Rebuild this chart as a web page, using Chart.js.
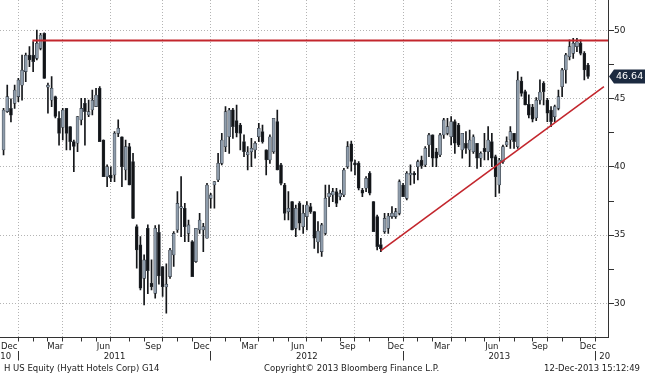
<!DOCTYPE html>
<html>
<head>
<meta charset="utf-8">
<script src="https://cdn.jsdelivr.net/npm/chart.js@4.4.1/dist/chart.umd.min.js"></script>
<style>
html, body { margin: 0; padding: 0; background: #fff; }
#wrap { position: relative; width: 645px; height: 376px; overflow: hidden; }
#footer span { position: absolute; top: 363px; font: 8.5px "DejaVu Sans", sans-serif; color: #1a1a1a; white-space: nowrap; }
</style>
</head>
<body>
<div id="wrap">
  <canvas id="chart" width="645" height="376"></canvas>
  <div id="footer">
    <span style="left:4px">H US Equity (Hyatt Hotels Corp) G14</span>
    <span style="left:264px">Copyright&copy; 2013 Bloomberg Finance L.P.</span>
    <span style="right:5px">12-Dec-2013 15:12:49</span>
  </div>
</div>
<script>
// weekly bars, first bar = week of Mon 6 Dec 2010
var FIRST_WEEK = Date.UTC(2010, 11, 6);

var opens = [41.25,44.06,44.3,44.67,45.16,46.0,47.0,48.2,48.2,47.97,48.7,49.8,45.85,44.9,45.16,43.57,42.9,44.3,42.96,41.86,
  41.74,43.45,44.67,43.81,44.18,44.43,45.77,41.98,39.29,39.41,39.41,42.47,42.22,39.78,41.49,40.4,35.62,34.28,31.83,35.5,
  31.47,30.73,35.2,32.69,31.2,31.96,33.55,35.38,36.97,36.97,35.13,34.52,33.06,35.38,35.38,34.77,37.7,38.68,39.05,40.27,
  41.49,42.22,44.2,43.4,43.08,41.86,40.9,41.12,41.25,42.22,42.59,41.25,40.51,41.12,43.33,40.15,38.68,36.72,37.46,35.5,
  37.33,35.62,36.36,37.09,36.72,34.5,33.79,35.13,37.82,37.95,38.19,37.82,37.95,40.02,41.7,40.3,40.27,38.31,38.44,39.54,
  37.46,36.36,34.3,35.26,35.5,36.36,36.36,36.6,38.68,37.7,39.41,39.54,40.02,40.5,40.15,41.61,42.35,41.12,40.88,42.35,
  42.47,42.22,43.33,43.08,41.25,41.74,41.25,41.12,41.74,40.64,41.37,41.12,41.86,40.76,38.68,40.39,41.61,41.98,42.47,41.49,
  46.3,45.53,44.6,44.4,43.6,44.9,46.14,44.91,44.18,43.69,44.3,45.89,47.12,48.09,48.34,48.83,49.07,48.34,47.48];
var highs = [44.3,46.0,45.0,46.0,46.5,48.2,48.35,48.83,49.2,50.05,49.8,49.85,46.15,46.63,45.2,44.06,44.3,44.3,42.96,41.98,
  43.69,45.04,45.04,44.9,45.65,45.77,45.9,42.0,40.15,40.02,42.59,43.45,42.22,41.98,41.74,41.0,35.75,34.89,33.55,35.75,
  33.18,35.7,35.75,32.69,32.9,34.03,35.26,38.19,39.29,37.33,36.11,34.6,35.5,36.6,35.87,38.8,38.07,38.92,41.0,42.47,
  44.43,44.3,44.3,44.55,43.2,42.35,41.49,42.1,41.86,43.2,43.08,41.25,42.35,43.57,44.18,40.27,38.8,38.19,37.46,37.21,
  37.46,37.21,37.46,37.33,36.72,36.0,35.87,38.68,38.68,38.44,38.44,38.31,39.9,41.86,41.9,40.51,40.39,38.44,39.29,39.66,
  37.46,36.48,34.77,36.6,36.6,37.09,36.97,39.05,38.8,39.66,40.15,39.66,40.51,40.8,41.49,42.47,42.35,41.37,42.47,43.57,
  43.57,43.69,43.45,43.2,42.47,42.59,42.71,42.35,41.74,41.12,42.47,42.96,42.47,40.88,40.64,41.61,42.22,42.96,42.47,46.99,
  46.6,45.65,45.3,44.6,45.1,46.4,46.26,45.04,44.43,44.55,45.65,47.24,48.34,49.32,49.44,49.44,49.32,48.46,47.6];
var lows = [40.88,44.0,43.3,44.3,44.8,44.9,46.26,47.36,47.0,47.85,48.58,46.5,43.94,44.43,43.6,41.6,41.98,41.25,41.25,39.66,
  41.12,43.08,41.6,43.69,43.81,44.43,41.86,39.29,38.56,38.92,38.92,42.22,38.56,39.05,38.68,36.2,32.57,30.98,29.88,30.7,
  30.98,30.37,31.4,30.5,29.27,31.83,32.7,35.2,34.89,34.52,34.52,31.96,33.0,35.13,33.79,34.77,36.97,36.97,38.92,40.15,
  41.12,41.0,42.1,42.2,41.25,40.76,39.78,40.02,40.64,41.86,41.74,39.41,40.27,41.0,39.78,38.68,36.11,36.11,35.38,34.89,
  35.38,35.13,35.38,36.6,34.03,33.7,33.43,35.01,37.09,37.46,37.09,37.58,37.82,39.9,39.7,39.41,38.31,37.82,38.19,37.95,
  35.26,33.91,33.79,35.13,35.13,36.23,36.23,36.48,37.82,37.58,38.68,38.8,39.05,39.9,40.02,40.76,40.02,40.02,40.76,42.1,
  42.35,41.61,41.0,41.49,40.64,41.0,40.02,41.0,39.9,40.02,40.51,40.51,40.02,37.82,38.07,40.27,41.49,41.37,41.37,41.37,
  45.2,44.55,43.6,43.3,43.4,44.6,44.55,43.33,42.96,43.33,44.18,45.16,46.14,47.85,47.97,48.46,48.22,46.38,46.5];
var closes = [44.18,45.16,43.8,45.65,46.38,47.1,48.2,47.85,47.73,49.07,49.68,46.5,46.0,45.77,43.7,42.47,44.18,42.47,41.86,41.5,
  43.69,44.3,44.06,44.06,44.9,45.28,41.86,39.29,40.02,39.17,42.47,42.84,40.02,41.49,38.68,36.23,33.91,31.1,33.18,32.4,
  31.22,35.5,32.0,31.22,31.4,33.91,35.13,37.33,37.09,35.62,35.75,31.96,35.5,36.11,35.62,38.68,37.95,38.92,40.27,41.98,
  44.06,44.18,42.96,42.5,42.47,41.12,41.1,41.37,41.74,42.84,41.86,40.51,42.22,43.57,39.78,38.8,36.6,36.97,35.38,36.97,
  35.87,36.6,37.21,36.72,34.77,35.3,35.75,37.7,38.07,38.19,37.33,38.07,39.78,41.49,40.4,40.15,38.44,38.07,39.17,38.07,
  35.26,34.16,34.0,36.23,36.4,36.6,36.72,38.92,37.82,39.54,39.54,39.41,40.39,40.1,41.37,42.35,40.64,40.64,42.35,43.45,
  42.96,43.33,41.74,41.61,42.47,41.37,41.98,42.22,40.64,41.0,41.12,41.98,40.64,39.29,40.51,41.49,41.86,42.59,41.86,46.38,
  45.4,44.55,43.8,43.5,44.9,45.5,45.53,43.94,43.33,44.43,45.16,47.12,48.22,48.83,49.07,49.19,48.34,47.12,46.64];

var monthNames = {11: 'Dec', 2: 'Mar', 5: 'Jun', 8: 'Sep'};
var yearLabels = ['10', '2011', '2012', '2013', '20'];
var yearLabelPos = [0.6, 30, 82, 134, 162.5];
var yTicks = [30, 32.5, 35, 37.5, 40, 42.5, 45, 47.5, 50];
var lastPrice = 46.64;
var resistance = [{x: 7.8, y: 49.27}, {x: 163.4, y: 49.27}];
var trendLine = [{x: 102, y: 33.87}, {x: 162.3, y: 45.89}];

var X_MIN = -0.96, X_MAX = 163.4;
var Y_MIN = 27.49, Y_MAX = 52.25;
var GRID = '#b4b4b4';
var DAY = 86400000;

// bar index of the first week whose Friday falls on or after a date
function barOf(ms) {
    return Math.ceil((ms - (FIRST_WEEK + 4 * DAY)) / (7 * DAY));
}

// month boundary ticks + label ticks centred in labelled months
var monthTicks = [];
var bounds = [];
for (var y = 2010; y <= 2014; y++) {
    for (var m = 0; m < 12; m++) {
        bounds.push({y: y, m: m, idx: barOf(Date.UTC(y, m, 1))});
    }
}
for (var b = 0; b < bounds.length - 1; b++) {
    var bd = bounds[b];
    if (bd.idx >= X_MIN && bd.idx <= X_MAX) {
        monthTicks.push({value: bd.idx, kind: bd.m % 3 === 0 ? 'quarter' : 'month', text: ''});
    }
    if (monthNames[bd.m] !== undefined) {
        var mid = (bd.idx + bounds[b + 1].idx) / 2;
        if (mid >= X_MIN && mid <= X_MAX) {
            monthTicks.push({value: mid, kind: 'label', text: monthNames[bd.m]});
        }
    }
}
monthTicks.sort(function(a, b) { return a.value - b.value; });

var yearTicks = [];
[2011, 2012, 2013, 2014].forEach(function(yr) {
    yearTicks.push({value: barOf(Date.UTC(yr, 0, 1)), kind: 'sep', text: ''});
});
yearLabels.forEach(function(t, i) {
    yearTicks.push({value: yearLabelPos[i], kind: 'label', text: t});
});
yearTicks.sort(function(a, b) { return a.value - b.value; });

var wickData = [], bodyData = [], bodyFill = [];
for (var i = 0; i < closes.length; i++) {
    wickData.push({x: i, y: [lows[i], highs[i]]});
    bodyData.push({x: i, y: [opens[i], closes[i]]});
    bodyFill.push(closes[i] >= opens[i] ? '#8e9cab' : '#121417');
}

function copyTicks(list) {
    return function(axis) {
        axis.ticks = list.map(function(t) { return {value: t.value, kind: t.kind, text: t.text}; });
    };
}
function noPad(axis) {
    axis.paddingLeft = 0; axis.paddingRight = 0;
    axis.paddingTop = 0; axis.paddingBottom = 0;
}

var priceTag = {
    id: 'priceTag',
    afterDraw: function(chart) {
        var ctx = chart.ctx;
        var yPix = chart.scales.y.getPixelForValue(lastPrice);
        var x0 = chart.chartArea.right + 1;
        ctx.save();
        ctx.fillStyle = '#1c2a40';
        ctx.beginPath();
        ctx.moveTo(x0, yPix);
        ctx.lineTo(x0 + 5, yPix - 7);
        ctx.lineTo(645, yPix - 7);
        ctx.lineTo(645, yPix + 7);
        ctx.lineTo(x0 + 5, yPix + 7);
        ctx.closePath();
        ctx.fill();
        ctx.fillStyle = '#ffffff';
        ctx.font = '9.5px "DejaVu Sans", sans-serif';
        ctx.textBaseline = 'middle';
        ctx.fillText(lastPrice.toFixed(2), x0 + 7, yPix + 0.5);
        ctx.restore();
    }
};

var chart = new Chart(document.getElementById('chart').getContext('2d'), {
    type: 'bar',
    data: {
        datasets: [{
            type: 'line',
            data: resistance,
            borderColor: '#c3262d',
            borderWidth: 2,
            pointRadius: 0,
            order: 0
        }, {
            type: 'line',
            data: trendLine,
            borderColor: '#c3262d',
            borderWidth: 1.6,
            pointRadius: 0,
            order: 0
        }, {
            data: bodyData,
            backgroundColor: bodyFill,
            borderColor: '#2e343c',
            borderWidth: 0.6,
            borderSkipped: false,
            barThickness: 3,
            grouped: false,
            order: 1
        }, {
            data: wickData,
            backgroundColor: '#15171a',
            borderWidth: 0,
            barThickness: 1,
            grouped: false,
            order: 2
        }]
    },
    plugins: [priceTag],
    options: {
        responsive: false,
        animation: false,
        devicePixelRatio: 1,
        layout: {
            autoPadding: false,
            padding: {left: 0, right: 0, top: 0, bottom: 13.5}
        },
        plugins: {
            legend: {display: false},
            tooltip: {enabled: false}
        },
        scales: {
            x: {
                type: 'linear',
                position: 'bottom',
                min: X_MIN,
                max: X_MAX,
                offset: false,
                afterBuildTicks: copyTicks(monthTicks),
                afterFit: function(axis) { axis.height = 13; noPad(axis); },
                grid: {
                    offset: false,
                    color: function(c) { return c.tick && c.tick.kind === 'quarter' ? GRID : 'rgba(0,0,0,0)'; },
                    tickColor: function(c) { return c.tick && c.tick.kind !== 'label' ? '#333' : 'rgba(0,0,0,0)'; },
                    tickLength: 4
                },
                border: {display: true, color: '#333', width: 1, dash: [1, 2]},
                ticks: {
                    autoSkip: false,
                    maxRotation: 0,
                    padding: 0,
                    color: '#1a1a1a',
                    font: {family: 'DejaVu Sans', size: 8.5},
                    callback: function(v, i, ticks) { return ticks[i].text; }
                }
            },
            x2: {
                type: 'linear',
                position: 'bottom',
                min: X_MIN,
                max: X_MAX,
                offset: false,
                afterBuildTicks: copyTicks(yearTicks),
                afterFit: function(axis) { axis.height = 12; noPad(axis); },
                grid: {
                    drawOnChartArea: false,
                    offset: false,
                    tickColor: function(c) { return c.tick && c.tick.kind === 'sep' ? '#333' : 'rgba(0,0,0,0)'; },
                    tickLength: 10
                },
                border: {display: false},
                ticks: {
                    autoSkip: false,
                    maxRotation: 0,
                    padding: -9,
                    color: '#1a1a1a',
                    font: {family: 'DejaVu Sans', size: 8.5},
                    callback: function(v, i, ticks) { return ticks[i].text; }
                }
            },
            y: {
                type: 'linear',
                position: 'right',
                min: Y_MIN,
                max: Y_MAX,
                beginAtZero: false,
                afterBuildTicks: function(axis) {
                    axis.ticks = yTicks.map(function(v) { return {value: v}; });
                },
                afterFit: function(axis) { axis.width = 37; noPad(axis); },
                grid: {
                    color: function(c) { return c.tick && c.tick.value % 5 === 0 ? GRID : 'rgba(0,0,0,0)'; },
                    tickColor: '#333',
                    tickLength: 6
                },
                border: {display: true, color: '#333', width: 1, dash: [1, 2]},
                ticks: {
                    autoSkip: false,
                    padding: 0,
                    color: '#1a1a1a',
                    font: {family: 'DejaVu Sans', size: 9},
                    callback: function(v) { return v % 5 === 0 ? String(v) : ''; }
                }
            }
        }
    }
});
</script>
</body>
</html>
